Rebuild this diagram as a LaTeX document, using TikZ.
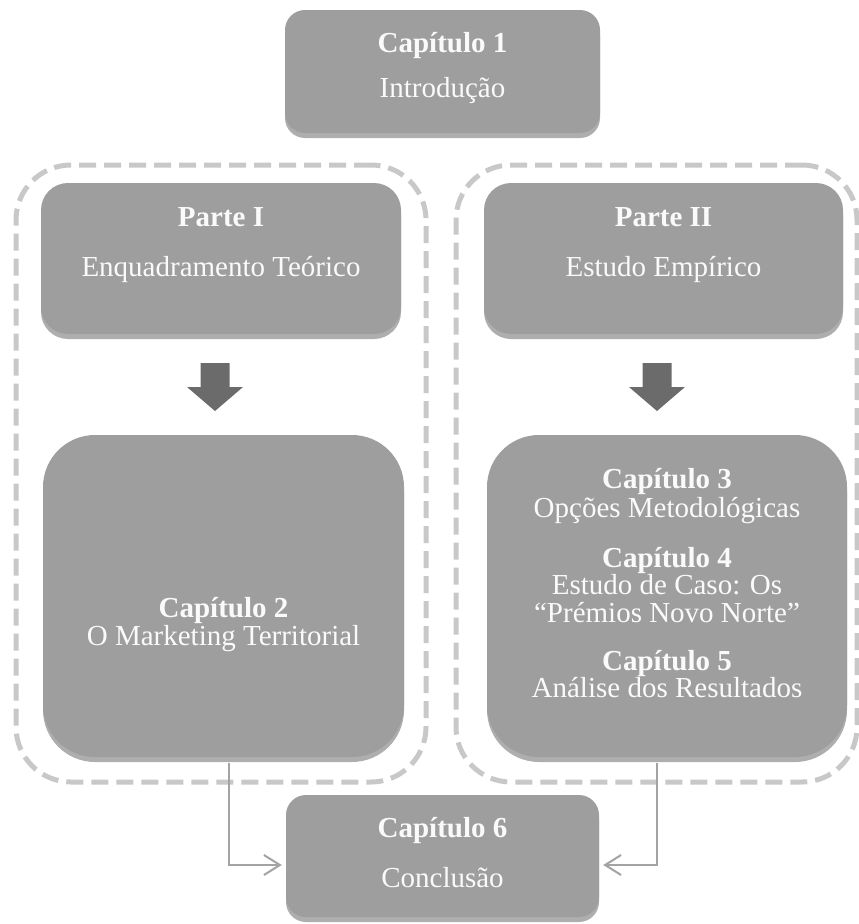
\documentclass[tikz,border=0pt]{standalone}
\usepackage{fontspec}
\setmainfont{Liberation Serif}
\usetikzlibrary{arrows.meta,shadows}
\definecolor{boxgray}{HTML}{9E9E9E}
\definecolor{shadowgray}{HTML}{AEAEAE}
\definecolor{dashgray}{HTML}{C8C8C8}
\definecolor{arrowgray}{HTML}{6B6B6B}
\definecolor{conngray}{HTML}{A3A3A3}
\definecolor{textwhite}{HTML}{FAFAFA}
\begin{document}
\begin{tikzpicture}[x=1pt,y=-1pt,
  box/.style={fill=boxgray, draw=none, inner sep=0pt,
    drop shadow={shadow xshift=0pt, shadow yshift=-5pt, fill=shadowgray, opacity=1}},
  container/.style={draw=dashgray, line width=5pt, dash pattern=on 17pt off 8pt,
    inner sep=0pt, rounded corners=55pt},
  ttl/.style={anchor=base, text=textwhite, font=\fontsize{29}{30}\selectfont\bfseries, inner sep=0pt},
  sub/.style={anchor=base, text=textwhite, font=\fontsize{29}{30}\selectfont, inner sep=0pt},
  blockarrow/.style={fill=arrowgray, draw=none},
  conn/.style={draw=conngray, line width=2pt, -{Straight Barb[length=16pt,width=20pt]}, shorten >=4pt}
]
\useasboundingbox (0,0) rectangle (859,924);

% dashed containers
\node[container, minimum width=410pt, minimum height=617pt] (left) at (221,473.5) {};
\node[container, minimum width=401pt, minimum height=617pt] (right) at (656.5,473.5) {};

% boxes
\node[box, rounded corners=20pt, minimum width=315pt, minimum height=123pt] (cap1) at (442.5,71.5) {};
\node[box, rounded corners=27pt, minimum width=360pt, minimum height=151pt] (p1) at (221,258.5) {};
\node[box, rounded corners=27pt, minimum width=359pt, minimum height=151pt] (p2) at (663.5,258.5) {};
\node[box, rounded corners=52pt, minimum width=361pt, minimum height=322pt] (c2) at (223.5,596) {};
\node[box, rounded corners=52pt, minimum width=360pt, minimum height=322pt] (c35) at (667,596) {};
\node[box, rounded corners=20pt, minimum width=313pt, minimum height=122pt] (c6) at (442.5,856) {};

% block arrows
\fill[blockarrow, shift={(215,363)}] (-14.5,0) -- (14.5,0) -- (14.5,24) -- (28,24) -- (0,48) -- (-28,24) -- (-14.5,24) -- cycle;
\fill[blockarrow, shift={(657,363)}] (-14.5,0) -- (14.5,0) -- (14.5,24) -- (28,24) -- (0,48) -- (-28,24) -- (-14.5,24) -- cycle;

% connectors
\coordinate (lb) at (229,865);
\coordinate (rb) at (657,865);
\draw[conn] ([yshift=-6pt]c2.south -| lb) -- (lb) -- (lb -| c6.west);
\draw[conn] ([yshift=-6pt]c35.south -| rb) -- (rb) -- (rb -| c6.east);

% texts
\node[ttl] (t1a) at (442.5,52) {Capítulo 1};
\node[sub] (t1b) at (442.5,97) {Introdução};
\node[ttl] (tp1a) at (221,226) {Parte I};
\node[sub] (tp1b) at (221,276) {Enquadramento Teórico};
\node[ttl] (tp2a) at (663.5,226) {Parte II};
\node[sub] (tp2b) at (663.5,276) {Estudo Empírico};
\node[ttl] (t2a) at (223.5,617) {Capítulo 2};
\node[sub] (t2b) at (223.5,645) {O Marketing Territorial};
\node[ttl] (t3a) at (667,488) {Capítulo 3};
\node[sub] (t3b) at (667,517) {Opções Metodológicas};
\node[ttl] (t4a) at (667,567) {Capítulo 4};
\node[sub] (t4b) at (667,594) {Estudo de Caso: Os};
\node[sub] (t4c) at (667,622) {“Prémios Novo Norte”};
\node[ttl] (t5a) at (667,670) {Capítulo 5};
\node[sub] (t5b) at (667,697) {Análise dos Resultados};
\node[ttl] (t6a) at (442.5,837) {Capítulo 6};
\node[sub] (t6b) at (442.5,887) {Conclusão};
\end{tikzpicture}
\end{document}
